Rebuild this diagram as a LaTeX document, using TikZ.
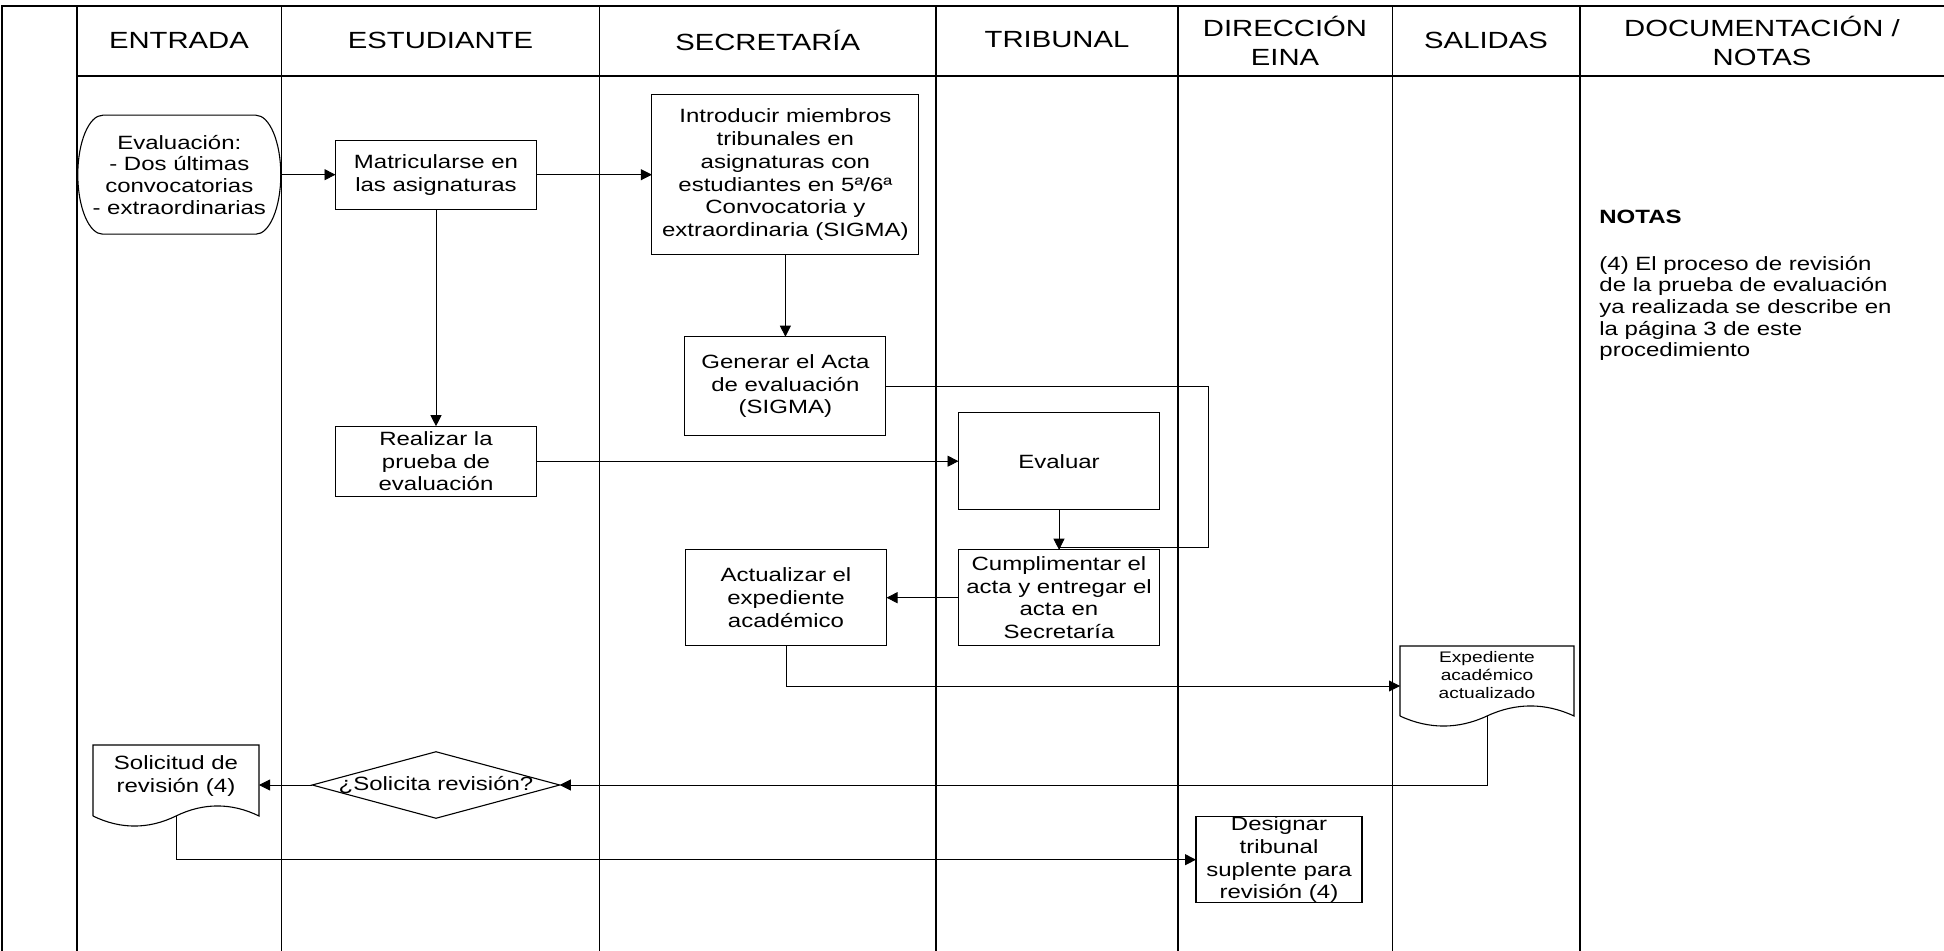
\documentclass[tikz,border=0pt]{standalone}
\usepackage{fontspec}
\setmainfont{Liberation Sans}[FakeStretch=1.25]
\usetikzlibrary{arrows.meta,positioning,calc}

\newcommand{\headerfont}{\fontsize{11.7}{14.2}\selectfont}
\newcommand{\boxtextfont}{\fontsize{9.6}{11.35}\selectfont}
\newcommand{\notetextfont}{\fontsize{9.6}{10.85}\selectfont}
\newcommand{\doctextfont}{\fontsize{7.65}{8.85}\selectfont}

% document symbol: straight top, wavy bottom
\newcommand{\docoutline}[1]{%
  \draw[outline] (#1.south west) -- (#1.north west) -- (#1.north east) -- (#1.south east)
    .. controls ($(#1.south east)!0.33!(#1.south)+(0,6.7pt)$) and ($(#1.south east)!0.67!(#1.south)+(0,6.7pt)$) .. (#1.south)
    .. controls ($(#1.south)!0.33!(#1.south west)+(0,-6.7pt)$) and ($(#1.south)!0.67!(#1.south west)+(0,-6.7pt)$) .. (#1.south west);}

\begin{document}
\begin{tikzpicture}[
  x=0.5pt, y=-0.5pt,
  node distance=20pt and 36pt,
  lane/.style={line width=0.8pt},
  head/.style={align=center, font=\headerfont},
  box/.style={draw, line width=0.55pt, minimum width=100.5pt, inner sep=1pt, outer sep=0pt, align=center, font=\boxtextfont},
  doc/.style={minimum width=83pt, minimum height=35.5pt, inner sep=1pt, outer sep=0pt, align=center, font=\boxtextfont},
  outline/.style={line width=0.55pt},
  arrow/.style={-{Triangle[length=5.5pt,width=5.5pt]}, line width=0.45pt},
  link/.style={line width=0.45pt}
]
\useasboundingbox (0,0) rectangle (1944,951);

% swimlanes
\draw[lane] (2,951) -- (2,6) -- (1944,6);
\draw[lane] (76.8,76) -- (1944,76);
\foreach \x in {76.8,281.3,599.6,935.7,1178,1392.5,1579.8}
  \draw[lane] (\x,6) -- (\x,951);

\node[head] (hEntrada) at (179,40) {ENTRADA};
\node[head] (hEstudiante) at (440.5,40) {ESTUDIANTE};
\node[head] (hSecretaria) at (767.7,40) {SECRETARÍA};
\node[head] (hTribunal) at (1057,40) {TRIBUNAL};
\node[head] (hDireccion) at (1285,41) {DIRECCIÓN\\EINA};
\node[head] (hSalidas) at (1486,40) {SALIDAS};
\node[head] (hNotas) at (1762,41) {DOCUMENTACIÓN /\\NOTAS};

% steps
\node[box, minimum height=34.5pt] (matr) at (436,174.7) {Matricularse en\\las asignaturas};
\node[minimum width=101.5pt, minimum height=59.5pt, inner sep=0pt, outer sep=0pt, align=center, font=\notetextfont, left=27.35pt of matr] (eval) {Evaluación:\\- Dos últimas\\convocatorias\\- extraordinarias};
\node[box, minimum width=133.5pt, minimum height=80pt, right=57.7pt of matr] (intro) {Introducir miembros\\tribunales en\\asignaturas con\\estudiantes en 5ª/6ª\\Convocatoria y\\extraordinaria (SIGMA)};
\node[box, minimum height=49.5pt, below=41pt of intro] (gen) {Generar el Acta\\de evaluación\\(SIGMA)};
\node[box, minimum height=35pt, below=108.5pt of matr] (real) {Realizar la\\prueba de\\evaluación};
\node[box, minimum height=48.5pt, right=211pt of real] (evaluar) {Evaluar};
\node[box, minimum height=48pt, below=of evaluar] (cumpl) {Cumplimentar el\\acta y entregar el\\acta en\\Secretaría};
\node[box, minimum height=48pt, left=of cumpl] (actu) {Actualizar el\\expediente\\académico};
\node[doc, minimum width=87pt, minimum height=35pt, font=\doctextfont, text depth=6pt] (exped) at (1487,681) {Expediente\\académico\\actualizado};
\node[minimum width=123.75pt, minimum height=33.25pt, inner sep=0pt, outer sep=0pt, font=\boxtextfont] (dec) at (436,785) {¿Solicita revisión?};
\node[doc, text depth=6.5pt] (solic) at (176,780.5) {Solicitud de\\revisión (4)};
\node[box, minimum width=83pt, minimum height=43pt, inner ysep=0pt] (desig) at (1279,859.7) {Designar\\tribunal\\suplente para\\revisión (4)};
\node[anchor=north west, align=left, inner sep=0pt, font=\notetextfont] (notas) at (1599,210) {\textbf{NOTAS}\\[12.3pt](4) El proceso de revisión\\de la prueba de evaluación\\ya realizada se describe en\\la página 3 de este\\procedimiento};

% outlines of the non-box shapes
\draw[outline] ([xshift=-12.5pt]eval.north east) .. controls ([xshift=-5.6pt]eval.north east) and ([yshift=16.4pt]eval.east) .. (eval.east)
  .. controls ([yshift=-16.4pt]eval.east) and ([xshift=-5.6pt]eval.south east) .. ([xshift=-12.5pt]eval.south east)
  -- ([xshift=12.5pt]eval.south west) .. controls ([xshift=5.6pt]eval.south west) and ([yshift=-16.4pt]eval.west) .. (eval.west)
  .. controls ([yshift=16.4pt]eval.west) and ([xshift=5.6pt]eval.north west) .. ([xshift=12.5pt]eval.north west) -- cycle;
\draw[outline] (dec.west) -- (dec.north) -- (dec.east) -- (dec.south) -- cycle;
\docoutline{exped}
\docoutline{solic}

% flow
\draw[arrow] (eval) -- (matr);
\draw[arrow] (matr) -- (intro);
\draw[arrow] (intro) -- (gen);
\draw[arrow] (matr) -- (real);
\draw[arrow] (real) -- (evaluar);
\draw[arrow] (evaluar) -- (cumpl);
\coordinate (acta) at (1208.5,547);
\draw[link] (gen.east) -| (acta) -| (cumpl.north);
\draw[arrow] (cumpl) -- (actu);
\draw[arrow] (actu.south) |- ([yshift=-2.5pt]exped.west);
\draw[arrow] (exped.south) |- (dec.east);
\draw[arrow] (dec.west) -- (solic.east |- dec.west);
\draw[arrow] (solic.south) |- (desig.west);
\end{tikzpicture}
\end{document}
